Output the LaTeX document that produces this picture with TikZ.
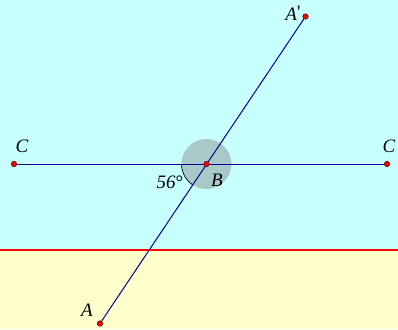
\documentclass[tikz,border=0pt]{standalone}
\usepackage{fontspec}
\setmainfont{Liberation Serif}
\begin{document}
\begin{tikzpicture}[x=1pt,y=-1pt,
  seg/.style={draw={rgb,255:red,0;green,0;blue,150},line width=1pt},
  pt/.style={circle,fill=red,draw=black!70!red,line width=0.5pt,inner sep=0pt,minimum size=5.5pt},
  lab/.style={font=\itshape\fontsize{19}{19}\selectfont,inner sep=0pt}]
\definecolor{skycol}{RGB}{200,255,255}
\definecolor{groundcol}{RGB}{255,255,204}
\useasboundingbox (0,0) rectangle (398,329);
\fill[skycol] (0,0) rectangle (398,250);
\fill[groundcol] (0,250) rectangle (398,329);
\draw[red,line width=2pt] (0,250) -- (398,250);
\coordinate (Bc) at (206.5,164);
\fill[gray,opacity=0.42] (Bc) circle[radius=25];
\draw[black,line width=0.7pt] (Bc) ++(180:25) arc[start angle=180,end angle=123.7,radius=25];
\node[pt] (A1) at (305.5,16.5) {};
\node[pt] (A) at (100,323.5) {};
\node[pt] (C1) at (14,164) {};
\node[pt] (C2) at (387,164) {};
\draw[seg] (C1) -- (C2);
\draw[seg] (A) -- (A1);
\node[pt] (B) at (Bc) {};
\node[lab] (lA1) at (293,13) {A\/\raisebox{0.25ex}{\upshape\textquotesingle}};
\node[lab] (lA) at (87,310) {A};
\node[lab] (lC1) at (22,146) {C};
\node[lab] (lC2) at (389,146) {C};
\node[lab] (lB) at (217,180) {B};
\node[lab] (l56) at (170,182) {56\upshape°};
\end{tikzpicture}
\end{document}
